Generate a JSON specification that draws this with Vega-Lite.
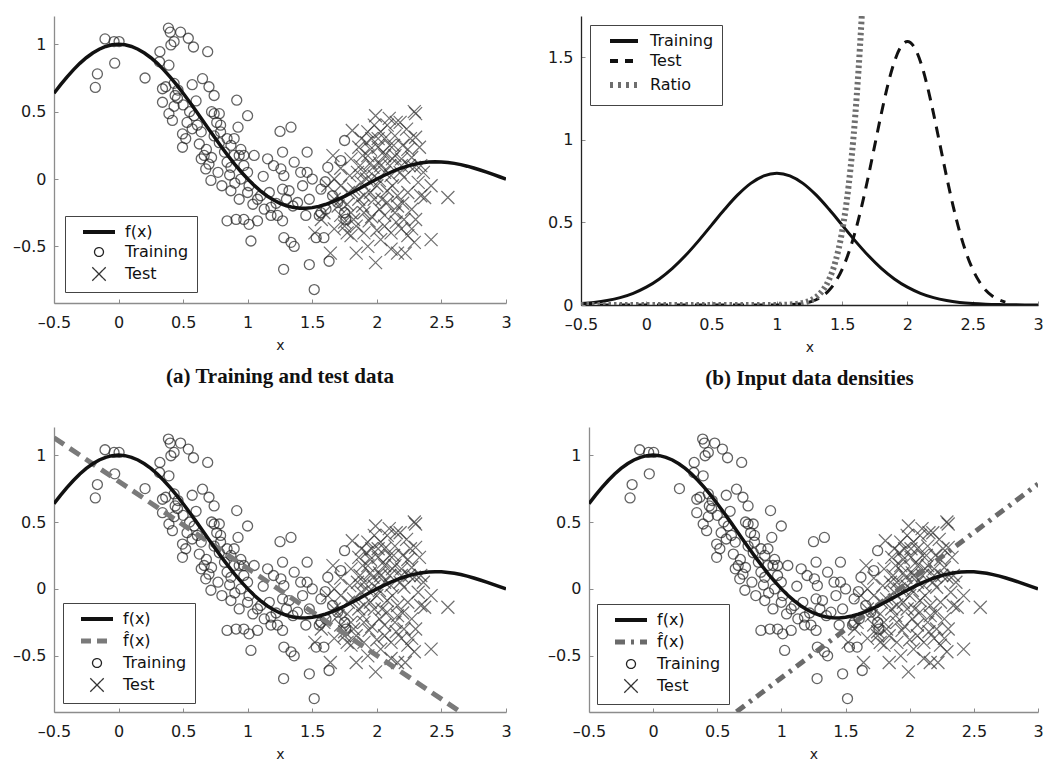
{
"$schema": "https://vega.github.io/schema/vega-lite/v6.json",
"background": "white",
"padding": {"left": 12, "top": 16, "right": 0, "bottom": 0},
"columns": 2,
"align": {"row": "all", "column": "none"},
"spacing": {"column": 35, "row": 38},
"resolve": {"scale": {"color": "independent"}, "legend": {"color": "independent"}},
"datasets": {
"curve": [{"x":-0.5,"y":0.6366},{"x":-0.45,"y":0.6987},{"x":-0.4,"y":0.7568},{"x":-0.35,"y":0.8103},{"x":-0.3,"y":0.8584},{"x":-0.25,"y":0.9003},{"x":-0.2,"y":0.9355},{"x":-0.15,"y":0.9634},{"x":-0.1,"y":0.9836},{"x":-0.05,"y":0.9959},{"x":0,"y":1},{"x":0.05,"y":0.9959},{"x":0.1,"y":0.9836},{"x":0.15,"y":0.9634},{"x":0.2,"y":0.9355},{"x":0.25,"y":0.9003},{"x":0.3,"y":0.8584},{"x":0.35,"y":0.8103},{"x":0.4,"y":0.7568},{"x":0.45,"y":0.6987},{"x":0.5,"y":0.6366},{"x":0.55,"y":0.5716},{"x":0.6,"y":0.5046},{"x":0.65,"y":0.4363},{"x":0.7,"y":0.3679},{"x":0.75,"y":0.3001},{"x":0.8,"y":0.2339},{"x":0.85,"y":0.17},{"x":0.9,"y":0.1093},{"x":0.95,"y":0.0524},{"x":1,"y":0},{"x":1.05,"y":-0.0474},{"x":1.1,"y":-0.0894},{"x":1.15,"y":-0.1257},{"x":1.2,"y":-0.1559},{"x":1.25,"y":-0.1801},{"x":1.3,"y":-0.1981},{"x":1.35,"y":-0.2101},{"x":1.4,"y":-0.2162},{"x":1.45,"y":-0.2168},{"x":1.5,"y":-0.2122},{"x":1.55,"y":-0.2028},{"x":1.6,"y":-0.1892},{"x":1.65,"y":-0.1719},{"x":1.7,"y":-0.1515},{"x":1.75,"y":-0.1286},{"x":1.8,"y":-0.1039},{"x":1.85,"y":-0.0781},{"x":1.9,"y":-0.0518},{"x":1.95,"y":-0.0255},{"x":2,"y":0},{"x":2.05,"y":0.0243},{"x":2.1,"y":0.0468},{"x":2.15,"y":0.0672},{"x":2.2,"y":0.085},{"x":2.25,"y":0.1},{"x":2.3,"y":0.112},{"x":2.35,"y":0.1207},{"x":2.4,"y":0.1261},{"x":2.45,"y":0.1283},{"x":2.5,"y":0.1273},{"x":2.55,"y":0.1233},{"x":2.6,"y":0.1164},{"x":2.65,"y":0.107},{"x":2.7,"y":0.0954},{"x":2.75,"y":0.0818},{"x":2.8,"y":0.0668},{"x":2.85,"y":0.0507},{"x":2.9,"y":0.0339},{"x":2.95,"y":0.0169},{"x":3,"y":0}],
"train": [{"x":-0.105,"y":1.04},{"x":-0.035,"y":1.02},{"x":0.004,"y":1.02},{"x":-0.164,"y":0.78},{"x":-0.18,"y":0.68},{"x":-0.03,"y":0.86},{"x":0.205,"y":0.75},{"x":0.32,"y":0.945},{"x":0.386,"y":1.12},{"x":0.4,"y":1.09},{"x":0.48,"y":1.09},{"x":0.54,"y":1.045},{"x":0.43,"y":1.02},{"x":0.58,"y":0.98},{"x":0.69,"y":0.945},{"x":0.405,"y":0.995},{"x":0.39,"y":0.845},{"x":0.317,"y":0.87},{"x":0.34,"y":0.67},{"x":0.365,"y":0.685},{"x":0.43,"y":0.71},{"x":0.34,"y":0.57},{"x":0.39,"y":0.485},{"x":0.417,"y":0.435},{"x":0.438,"y":0.62},{"x":0.456,"y":0.6},{"x":0.43,"y":0.54},{"x":0.495,"y":0.335},{"x":0.495,"y":0.236},{"x":0.52,"y":0.3},{"x":0.57,"y":0.7},{"x":0.53,"y":0.42},{"x":0.61,"y":0.4},{"x":0.64,"y":0.35},{"x":0.65,"y":0.745},{"x":0.7,"y":0.685},{"x":0.74,"y":0.62},{"x":0.625,"y":0.26},{"x":0.663,"y":0.175},{"x":0.7,"y":0.11},{"x":0.715,"y":-0.01},{"x":0.74,"y":0.485},{"x":0.78,"y":0.485},{"x":0.79,"y":0.4},{"x":0.74,"y":0.32},{"x":0.78,"y":0.27},{"x":0.82,"y":0.2},{"x":0.84,"y":0.125},{"x":0.87,"y":0.087},{"x":0.915,"y":0.585},{"x":0.925,"y":0.385},{"x":0.999,"y":0.47},{"x":0.87,"y":0.25},{"x":0.895,"y":0.175},{"x":0.934,"y":0.175},{"x":0.87,"y":-0.087},{"x":0.934,"y":-0.15},{"x":0.84,"y":-0.31},{"x":0.91,"y":-0.3},{"x":0.97,"y":-0.3},{"x":1.01,"y":-0.336},{"x":1.076,"y":-0.31},{"x":1.025,"y":-0.46},{"x":0.97,"y":0.1},{"x":0.999,"y":0.05},{"x":1.05,"y":0.175},{"x":1.01,"y":-0.05},{"x":1.04,"y":-0.187},{"x":1.076,"y":-0.15},{"x":1.154,"y":0.15},{"x":1.167,"y":-0.1},{"x":1.18,"y":-0.21},{"x":1.23,"y":-0.27},{"x":1.25,"y":0.353},{"x":1.335,"y":0.385},{"x":1.27,"y":0.2},{"x":1.257,"y":0.075},{"x":1.28,"y":0.025},{"x":1.27,"y":-0.075},{"x":1.32,"y":-0.087},{"x":1.3,"y":-0.15},{"x":1.27,"y":-0.31},{"x":1.28,"y":-0.435},{"x":1.335,"y":-0.47},{"x":1.36,"y":-0.5},{"x":1.278,"y":-0.67},{"x":1.36,"y":0.125},{"x":1.41,"y":0.05},{"x":1.46,"y":0.2},{"x":1.46,"y":0.05},{"x":1.5,"y":0},{"x":1.477,"y":-0.15},{"x":1.45,"y":-0.27},{"x":1.53,"y":-0.435},{"x":1.477,"y":-0.635},{"x":1.515,"y":-0.82},{"x":1.567,"y":-0.075},{"x":1.62,"y":0.087},{"x":1.606,"y":-0.224},{"x":1.59,"y":-0.435},{"x":1.63,"y":-0.61},{"x":1.75,"y":0.286},{"x":1.72,"y":0.137},{"x":1.75,"y":-0.25},{"x":1.76,"y":-0.3},{"x":0.64,"y":0.15},{"x":0.675,"y":0.075},{"x":0.57,"y":0.373},{"x":0.585,"y":0.47},{"x":0.79,"y":0.35},{"x":0.84,"y":0.3},{"x":0.895,"y":0.3},{"x":0.947,"y":0.22},{"x":0.97,"y":0.175},{"x":0.77,"y":0.05},{"x":0.8,"y":-0.05},{"x":0.947,"y":0},{"x":0.999,"y":-0.1},{"x":1.1,"y":-0.124},{"x":1.128,"y":-0.224},{"x":1.18,"y":-0.27},{"x":1.386,"y":-0.174},{"x":1.425,"y":-0.05},{"x":1.567,"y":-0.25},{"x":1.657,"y":-0.124},{"x":1.696,"y":-0.174},{"x":1.554,"y":-0.27},{"x":0.46,"y":0.66},{"x":0.5,"y":0.55},{"x":0.55,"y":0.5},{"x":0.6,"y":0.58},{"x":0.72,"y":0.5},{"x":0.76,"y":0.42},{"x":0.68,"y":0.22},{"x":0.72,"y":0.16},{"x":0.86,"y":0.03},{"x":0.9,"y":-0.03},{"x":1.12,"y":0.02},{"x":1.2,"y":0.1},{"x":1.22,"y":-0.18},{"x":1.35,"y":-0.2},{"x":1.6,"y":-0.02}],
"test": [{"x":2.29,"y":0.5},{"x":2.3,"y":0.485},{"x":1.99,"y":0.47},{"x":2.096,"y":0.45},{"x":2.15,"y":0.42},{"x":1.81,"y":0.36},{"x":1.93,"y":0.35},{"x":2.03,"y":0.35},{"x":2.3,"y":0.31},{"x":1.92,"y":0.27},{"x":2.01,"y":0.236},{"x":2.13,"y":0.25},{"x":2.2,"y":0.25},{"x":2.33,"y":0.236},{"x":1.66,"y":0.174},{"x":1.89,"y":0.174},{"x":2.06,"y":0.174},{"x":2.14,"y":0.174},{"x":2.27,"y":0.16},{"x":1.87,"y":0.1},{"x":1.97,"y":0.087},{"x":2.03,"y":0.1},{"x":2.19,"y":0.1},{"x":2.29,"y":0.087},{"x":1.79,"y":0.025},{"x":1.92,"y":0},{"x":2.02,"y":-0.012},{"x":2.11,"y":0.025},{"x":2.21,"y":0.012},{"x":2.42,"y":-0.05},{"x":1.72,"y":-0.05},{"x":1.82,"y":-0.075},{"x":1.95,"y":-0.1},{"x":2.08,"y":-0.087},{"x":2.16,"y":-0.124},{"x":2.37,"y":-0.137},{"x":2.55,"y":-0.137},{"x":1.67,"y":-0.15},{"x":1.77,"y":-0.187},{"x":1.89,"y":-0.2},{"x":2.02,"y":-0.224},{"x":2.14,"y":-0.25},{"x":2.27,"y":-0.224},{"x":1.59,"y":-0.25},{"x":1.72,"y":-0.27},{"x":1.82,"y":-0.3},{"x":1.94,"y":-0.31},{"x":2.06,"y":-0.35},{"x":2.19,"y":-0.37},{"x":1.67,"y":-0.37},{"x":1.77,"y":-0.4},{"x":1.9,"y":-0.4},{"x":2.03,"y":-0.45},{"x":2.27,"y":-0.37},{"x":2.42,"y":-0.45},{"x":1.64,"y":-0.55},{"x":1.84,"y":-0.55},{"x":2.11,"y":-0.52},{"x":2.16,"y":-0.55},{"x":1.99,"y":-0.62},{"x":2.34,"y":-0.124},{"x":2.34,"y":0.1},{"x":2.23,"y":0.37},{"x":1.93,"y":0.174},{"x":1.86,"y":0.236},{"x":2.06,"y":0.3},{"x":1.98,"y":0.4},{"x":1.8,"y":-0.25},{"x":1.75,"y":-0.35},{"x":1.88,"y":-0.025},{"x":1.98,"y":-0.15},{"x":2.08,"y":-0.174},{"x":2.16,"y":-0.2},{"x":2.24,"y":-0.1},{"x":2.32,"y":-0.025},{"x":2.21,"y":-0.3},{"x":2.11,"y":-0.4},{"x":1.93,"y":-0.5},{"x":2.29,"y":-0.47},{"x":1.72,"y":-0.15},{"x":1.57,"y":-0.3},{"x":1.52,"y":-0.4},{"x":1.8,"y":0.15},{"x":2.19,"y":0.15},{"x":2.06,"y":0.05},{"x":1.95,"y":0.22},{"x":2.14,"y":0.32},{"x":2.01,"y":0.3},{"x":1.9,"y":0.05},{"x":1.67,"y":0},{"x":2.24,"y":0.22},{"x":1.86,"y":-0.15},{"x":2.06,"y":-0.27},{"x":1.85,"y":0.05},{"x":1.95,"y":0.12},{"x":2.05,"y":0.2},{"x":2.1,"y":0.1},{"x":2.18,"y":0.05},{"x":2.25,"y":0.1},{"x":2.12,"y":-0.05},{"x":2,"y":-0.05},{"x":1.9,"y":-0.12},{"x":1.78,"y":-0.1},{"x":1.7,"y":-0.2},{"x":1.84,"y":-0.35},{"x":1.96,"y":-0.28},{"x":2.04,"y":-0.15},{"x":2.2,"y":-0.18},{"x":2.3,"y":-0.3},{"x":2.26,"y":0.3},{"x":2.18,"y":0.42},{"x":2.08,"y":0.4},{"x":1.96,"y":0.3},{"x":1.88,"y":0.3},{"x":2.1,"y":0.25},{"x":1.75,"y":-0.32},{"x":1.8,"y":-0.42},{"x":2,"y":-0.38},{"x":2.24,"y":-0.42},{"x":2.36,"y":0.05},{"x":1.62,"y":-0.05},{"x":1.98,"y":0.02},{"x":2.15,"y":-0.32},{"x":1.72,"y":0.08},{"x":2.22,"y":-0.55},{"x":1.9,"y":-0.25},{"x":2.02,"y":0.12},{"x":2.12,"y":0.15}],
"dtrain": [{"x":-0.5,"p":0.0089},{"x":-0.4,"p":0.0158},{"x":-0.3,"p":0.0272},{"x":-0.2,"p":0.0448},{"x":-0.1,"p":0.071},{"x":0,"p":0.108},{"x":0.1,"p":0.1579},{"x":0.2,"p":0.2219},{"x":0.3,"p":0.2995},{"x":0.4,"p":0.3884},{"x":0.5,"p":0.4839},{"x":0.6,"p":0.5794},{"x":0.7,"p":0.6665},{"x":0.8,"p":0.7365},{"x":0.9,"p":0.7821},{"x":1,"p":0.7979},{"x":1.1,"p":0.7821},{"x":1.2,"p":0.7365},{"x":1.3,"p":0.6665},{"x":1.4,"p":0.5794},{"x":1.5,"p":0.4839},{"x":1.6,"p":0.3884},{"x":1.7,"p":0.2995},{"x":1.8,"p":0.2219},{"x":1.9,"p":0.1579},{"x":2,"p":0.108},{"x":2.1,"p":0.071},{"x":2.2,"p":0.0448},{"x":2.3,"p":0.0272},{"x":2.4,"p":0.0158},{"x":2.5,"p":0.0089},{"x":2.6,"p":0.0048},{"x":2.7,"p":0.0025},{"x":2.8,"p":0.0012},{"x":2.9,"p":0.0006},{"x":3,"p":0.0003}],
"dtest": [{"x":-0.5,"p":0},{"x":0,"p":0},{"x":0.5,"p":0},{"x":0.9,"p":0.0001},{"x":1,"p":0.0005},{"x":1.1,"p":0.0025},{"x":1.2,"p":0.0095},{"x":1.3,"p":0.0317},{"x":1.35,"p":0.0543},{"x":1.4,"p":0.0896},{"x":1.45,"p":0.1419},{"x":1.5,"p":0.216},{"x":1.55,"p":0.3158},{"x":1.6,"p":0.4437},{"x":1.65,"p":0.5989},{"x":1.7,"p":0.7767},{"x":1.75,"p":0.9679},{"x":1.8,"p":1.1588},{"x":1.85,"p":1.3329},{"x":1.9,"p":1.4731},{"x":1.95,"p":1.5642},{"x":2,"p":1.5958},{"x":2.05,"p":1.5642},{"x":2.1,"p":1.4731},{"x":2.15,"p":1.3329},{"x":2.2,"p":1.1588},{"x":2.25,"p":0.9679},{"x":2.3,"p":0.7767},{"x":2.35,"p":0.5989},{"x":2.4,"p":0.4437},{"x":2.45,"p":0.3158},{"x":2.5,"p":0.216},{"x":2.55,"p":0.1419},{"x":2.6,"p":0.0896},{"x":2.65,"p":0.0543},{"x":2.7,"p":0.0317},{"x":2.75,"p":0.0177}],
"dratio": [{"x":-0.5,"p":0},{"x":0,"p":0},{"x":0.5,"p":0},{"x":0.9,"p":0.0001},{"x":1,"p":0.0007},{"x":1.1,"p":0.0031},{"x":1.2,"p":0.013},{"x":1.25,"p":0.0252},{"x":1.3,"p":0.0475},{"x":1.35,"p":0.087},{"x":1.4,"p":0.1546},{"x":1.45,"p":0.2667},{"x":1.5,"p":0.4463},{"x":1.55,"p":0.7248},{"x":1.6,"p":1.1424},{"x":1.65,"p":1.7474},{"x":1.7,"p":2.5939}],
"fhatc": [{"x":-0.5,"y":1.13},{"x":2.65,"y":-0.921}],
"fhatd": [{"x":0.65,"y":-0.918},{"x":3,"y":0.784}]
},
"concat": [
{
 "width": 452, "height": 287,
 "title": {"text": "(a) Training and test data"},
 "layer": [
  {"data": {"name": "train"}, "mark": {"type": "point", "shape": "circle", "filled": false, "size": 100, "strokeWidth": 1.3, "clip": true},
   "encoding": {
    "x": {"field": "x", "type": "quantitative", "scale": {"domain": [-0.5, 3], "nice": false, "zero": false}, "axis": {"values": [-0.5,0,0.5,1,1.5,2,2.5,3], "title": "x", "labelPadding": 15, "labelExpr": "datum.value < 0 ? '–' + format(-datum.value, '~g') : format(datum.value, '~g')"}},
    "y": {"field": "y", "type": "quantitative", "scale": {"domain": [-0.92, 1.21], "nice": false, "zero": false}, "axis": {"values": [-0.5,0,0.5,1], "title": null, "labelExpr": "datum.value < 0 ? '–' + format(-datum.value, '~g') : format(datum.value, '~g')"}},
    "color": {"datum": "Training", "type": "nominal", "scale": {"domain": ["f(x)", "Training", "Test"], "range": ["#111111", "#222222", "#333333"]},
     "legend": {"orient": "bottom-left", "offset": 11,
      "encode": {"symbols": {"update": {
       "shape": {"signal": "datum.value === 'Training' ? 'circle' : datum.value === 'Test' ? 'M-1,-1L1,1M1,-1L-1,1' : 'M-3.2,0L3.2,0'"},
       "size": {"signal": "datum.value === 'Training' ? 80 : datum.value === 'Test' ? 180 : 100"},
       "strokeWidth": {"signal": "datum.value === 'f(x)' ? 4 : 1.3"},
       "stroke": {"value": "#111111"},
       "fill": {"value": "transparent"},
       "strokeDash": {"value": [1, 0]}}}}}}
   }},
  {"data": {"name": "test"}, "mark": {"type": "point", "shape": "M-1,-1L1,1M1,-1L-1,1", "filled": false, "size": 169, "strokeWidth": 1.2, "clip": true},
   "encoding": {"x": {"field": "x", "type": "quantitative"}, "y": {"field": "y", "type": "quantitative"},
    "color": {"datum": "Test", "type": "nominal",
     "legend": {"orient": "bottom-left", "offset": 11,
      "encode": {"symbols": {"update": {
       "shape": {"signal": "datum.value === 'Training' ? 'circle' : datum.value === 'Test' ? 'M-1,-1L1,1M1,-1L-1,1' : 'M-3.2,0L3.2,0'"},
       "size": {"signal": "datum.value === 'Training' ? 80 : datum.value === 'Test' ? 180 : 100"},
       "strokeWidth": {"signal": "datum.value === 'f(x)' ? 4 : 1.3"},
       "stroke": {"value": "#111111"},
       "fill": {"value": "transparent"},
       "strokeDash": {"value": [1, 0]}}}}}}}},
  {"data": {"name": "curve"}, "mark": {"type": "line", "strokeWidth": 3.5, "clip": true},
   "encoding": {"x": {"field": "x", "type": "quantitative"}, "y": {"field": "y", "type": "quantitative"},
    "color": {"datum": "f(x)", "type": "nominal",
     "legend": {"orient": "bottom-left", "offset": 11,
      "encode": {"symbols": {"update": {
       "shape": {"signal": "datum.value === 'Training' ? 'circle' : datum.value === 'Test' ? 'M-1,-1L1,1M1,-1L-1,1' : 'M-3.2,0L3.2,0'"},
       "size": {"signal": "datum.value === 'Training' ? 80 : datum.value === 'Test' ? 180 : 100"},
       "strokeWidth": {"signal": "datum.value === 'f(x)' ? 4 : 1.3"},
       "stroke": {"value": "#111111"},
       "fill": {"value": "transparent"},
       "strokeDash": {"value": [1, 0]}}}}}}}}
 ]
},
{
 "width": 457, "height": 289,
 "title": {"text": "(b) Input data densities"},
 "layer": [
  {"data": {"name": "dtrain"}, "mark": {"type": "line", "strokeWidth": 3, "clip": true, "interpolate": "monotone"},
   "encoding": {
    "x": {"field": "x", "type": "quantitative", "scale": {"domain": [-0.5, 3], "nice": false, "zero": false}, "axis": {"values": [-0.5,0,0.5,1,1.5,2,2.5,3], "title": "x", "labelPadding": 15, "domainColor": "#222222", "labelExpr": "datum.value < 0 ? '–' + format(-datum.value, '~g') : format(datum.value, '~g')"}},
    "y": {"field": "p", "type": "quantitative", "scale": {"domain": [0, 1.75], "nice": false, "zero": false}, "axis": {"values": [0,0.5,1,1.5], "title": null, "domainColor": "#222222", "labelExpr": "format(datum.value, '~g')"}},
    "color": {"datum": "Training", "type": "nominal", "scale": {"domain": ["Training", "Test", "Ratio"], "range": ["#111111", "#111111", "#6e6e6e"]},
     "legend": {"orient": "top-left", "offset": 9,
      "encode": {"symbols": {"update": {
       "shape": {"value": "M-2.8,0L2.8,0"},
       "size": {"value": 100},
       "strokeWidth": {"signal": "datum.value === 'Ratio' ? 6 : 4"},
       "stroke": {"signal": "datum.value === 'Ratio' ? '#6e6e6e' : '#111111'"},
       "fill": {"value": "transparent"},
       "strokeDash": {"signal": "datum.value === 'Test' ? [8, 7] : datum.value === 'Ratio' ? [3, 5] : [1, 0]"}}}}}}
   }},
  {"data": {"name": "dtest"}, "mark": {"type": "line", "strokeWidth": 3, "strokeDash": [11, 8], "clip": true, "interpolate": "monotone"},
   "encoding": {"x": {"field": "x", "type": "quantitative"}, "y": {"field": "p", "type": "quantitative"}, "color": {"datum": "Test", "type": "nominal"}}},
  {"data": {"name": "dratio"}, "mark": {"type": "line", "strokeWidth": 6, "strokeDash": [2.5, 3], "clip": true, "interpolate": "monotone"},
   "encoding": {"x": {"field": "x", "type": "quantitative"}, "y": {"field": "p", "type": "quantitative"}, "color": {"datum": "Ratio", "type": "nominal"}}}
 ]
},
{
 "width": 452, "height": 285,
 "layer": [
  {"data": {"name": "train"}, "mark": {"type": "point", "shape": "circle", "filled": false, "size": 100, "strokeWidth": 1.3, "clip": true},
   "encoding": {
    "x": {"field": "x", "type": "quantitative", "scale": {"domain": [-0.5, 3], "nice": false, "zero": false}, "axis": {"values": [-0.5,0,0.5,1,1.5,2,2.5,3], "title": "x", "labelPadding": 15, "labelExpr": "datum.value < 0 ? '–' + format(-datum.value, '~g') : format(datum.value, '~g')"}},
    "y": {"field": "y", "type": "quantitative", "scale": {"domain": [-0.92, 1.21], "nice": false, "zero": false}, "axis": {"values": [-0.5,0,0.5,1], "title": null, "labelExpr": "datum.value < 0 ? '–' + format(-datum.value, '~g') : format(datum.value, '~g')"}},
    "color": {"datum": "Training", "type": "nominal", "scale": {"domain": ["f(x)", "f\u0302(x)", "Training", "Test"], "range": ["#111111", "#7a7a7a", "#222222", "#333333"]},
     "legend": {"orient": "bottom-left", "offset": 9,
      "encode": {"symbols": {"update": {
       "shape": {"signal": "datum.value === 'Training' ? 'circle' : datum.value === 'Test' ? 'M-1,-1L1,1M1,-1L-1,1' : 'M-3.2,0L3.2,0'"},
       "size": {"signal": "datum.value === 'Training' ? 80 : datum.value === 'Test' ? 180 : 100"},
       "strokeWidth": {"signal": "datum.value === 'f(x)' ? 4 : datum.value === 'Training' || datum.value === 'Test' ? 1.3 : 5"},
       "stroke": {"signal": "datum.value === 'f(x)' || datum.value === 'Training' || datum.value === 'Test' ? '#111111' : '#7a7a7a'"},
       "fill": {"value": "transparent"},
       "strokeDash": {"signal": "datum.value === 'f(x)' || datum.value === 'Training' || datum.value === 'Test' ? [1, 0] : [10, 6]"}}}}}}
   }},
  {"data": {"name": "test"}, "mark": {"type": "point", "shape": "M-1,-1L1,1M1,-1L-1,1", "filled": false, "size": 169, "strokeWidth": 1.2, "clip": true},
   "encoding": {"x": {"field": "x", "type": "quantitative"}, "y": {"field": "y", "type": "quantitative"},
    "color": {"datum": "Test", "type": "nominal",
     "legend": {"orient": "bottom-left", "offset": 9,
      "encode": {"symbols": {"update": {
       "shape": {"signal": "datum.value === 'Training' ? 'circle' : datum.value === 'Test' ? 'M-1,-1L1,1M1,-1L-1,1' : 'M-3.2,0L3.2,0'"},
       "size": {"signal": "datum.value === 'Training' ? 80 : datum.value === 'Test' ? 180 : 100"},
       "strokeWidth": {"signal": "datum.value === 'f(x)' ? 4 : datum.value === 'Training' || datum.value === 'Test' ? 1.3 : 5"},
       "stroke": {"signal": "datum.value === 'f(x)' || datum.value === 'Training' || datum.value === 'Test' ? '#111111' : '#7a7a7a'"},
       "fill": {"value": "transparent"},
       "strokeDash": {"signal": "datum.value === 'f(x)' || datum.value === 'Training' || datum.value === 'Test' ? [1, 0] : [10, 6]"}}}}}}}},
  {"data": {"name": "fhatc"}, "mark": {"type": "line", "strokeWidth": 5, "strokeDash": [12, 7], "clip": true},
   "encoding": {"x": {"field": "x", "type": "quantitative"}, "y": {"field": "y", "type": "quantitative"},
    "color": {"datum": "f\u0302(x)", "type": "nominal",
     "legend": {"orient": "bottom-left", "offset": 9,
      "encode": {"symbols": {"update": {
       "shape": {"signal": "datum.value === 'Training' ? 'circle' : datum.value === 'Test' ? 'M-1,-1L1,1M1,-1L-1,1' : 'M-3.2,0L3.2,0'"},
       "size": {"signal": "datum.value === 'Training' ? 80 : datum.value === 'Test' ? 180 : 100"},
       "strokeWidth": {"signal": "datum.value === 'f(x)' ? 4 : datum.value === 'Training' || datum.value === 'Test' ? 1.3 : 5"},
       "stroke": {"signal": "datum.value === 'f(x)' || datum.value === 'Training' || datum.value === 'Test' ? '#111111' : '#7a7a7a'"},
       "fill": {"value": "transparent"},
       "strokeDash": {"signal": "datum.value === 'f(x)' || datum.value === 'Training' || datum.value === 'Test' ? [1, 0] : [10, 6]"}}}}}}}},
  {"data": {"name": "curve"}, "mark": {"type": "line", "strokeWidth": 3.5, "clip": true},
   "encoding": {"x": {"field": "x", "type": "quantitative"}, "y": {"field": "y", "type": "quantitative"},
    "color": {"datum": "f(x)", "type": "nominal",
     "legend": {"orient": "bottom-left", "offset": 9,
      "encode": {"symbols": {"update": {
       "shape": {"signal": "datum.value === 'Training' ? 'circle' : datum.value === 'Test' ? 'M-1,-1L1,1M1,-1L-1,1' : 'M-3.2,0L3.2,0'"},
       "size": {"signal": "datum.value === 'Training' ? 80 : datum.value === 'Test' ? 180 : 100"},
       "strokeWidth": {"signal": "datum.value === 'f(x)' ? 4 : datum.value === 'Training' || datum.value === 'Test' ? 1.3 : 5"},
       "stroke": {"signal": "datum.value === 'f(x)' || datum.value === 'Training' || datum.value === 'Test' ? '#111111' : '#7a7a7a'"},
       "fill": {"value": "transparent"},
       "strokeDash": {"signal": "datum.value === 'f(x)' || datum.value === 'Training' || datum.value === 'Test' ? [1, 0] : [10, 6]"}}}}}}}}
 ]
},
{
 "width": 449, "height": 285,
 "layer": [
  {"data": {"name": "train"}, "mark": {"type": "point", "shape": "circle", "filled": false, "size": 100, "strokeWidth": 1.3, "clip": true},
   "encoding": {
    "x": {"field": "x", "type": "quantitative", "scale": {"domain": [-0.5, 3], "nice": false, "zero": false}, "axis": {"values": [-0.5,0,0.5,1,1.5,2,2.5,3], "title": "x", "labelPadding": 15, "labelExpr": "datum.value < 0 ? '–' + format(-datum.value, '~g') : format(datum.value, '~g')"}},
    "y": {"field": "y", "type": "quantitative", "scale": {"domain": [-0.92, 1.21], "nice": false, "zero": false}, "axis": {"values": [-0.5,0,0.5,1], "title": null, "labelExpr": "datum.value < 0 ? '–' + format(-datum.value, '~g') : format(datum.value, '~g')"}},
    "color": {"datum": "Training", "type": "nominal", "scale": {"domain": ["f(x)", "f\u0302(x)", "Training", "Test"], "range": ["#111111", "#6a6a6a", "#222222", "#333333"]},
     "legend": {"orient": "bottom-left", "offset": 8,
      "encode": {"symbols": {"update": {
       "shape": {"signal": "datum.value === 'Training' ? 'circle' : datum.value === 'Test' ? 'M-1,-1L1,1M1,-1L-1,1' : 'M-3.2,0L3.2,0'"},
       "size": {"signal": "datum.value === 'Training' ? 80 : datum.value === 'Test' ? 180 : 100"},
       "strokeWidth": {"signal": "datum.value === 'f(x)' ? 4 : datum.value === 'Training' || datum.value === 'Test' ? 1.3 : 5"},
       "stroke": {"signal": "datum.value === 'f(x)' || datum.value === 'Training' || datum.value === 'Test' ? '#111111' : '#6a6a6a'"},
       "fill": {"value": "transparent"},
       "strokeDash": {"signal": "datum.value === 'f(x)' || datum.value === 'Training' || datum.value === 'Test' ? [1, 0] : [10, 6, 3, 6]"}}}}}}
   }},
  {"data": {"name": "test"}, "mark": {"type": "point", "shape": "M-1,-1L1,1M1,-1L-1,1", "filled": false, "size": 169, "strokeWidth": 1.2, "clip": true},
   "encoding": {"x": {"field": "x", "type": "quantitative"}, "y": {"field": "y", "type": "quantitative"},
    "color": {"datum": "Test", "type": "nominal",
     "legend": {"orient": "bottom-left", "offset": 8,
      "encode": {"symbols": {"update": {
       "shape": {"signal": "datum.value === 'Training' ? 'circle' : datum.value === 'Test' ? 'M-1,-1L1,1M1,-1L-1,1' : 'M-3.2,0L3.2,0'"},
       "size": {"signal": "datum.value === 'Training' ? 80 : datum.value === 'Test' ? 180 : 100"},
       "strokeWidth": {"signal": "datum.value === 'f(x)' ? 4 : datum.value === 'Training' || datum.value === 'Test' ? 1.3 : 5"},
       "stroke": {"signal": "datum.value === 'f(x)' || datum.value === 'Training' || datum.value === 'Test' ? '#111111' : '#6a6a6a'"},
       "fill": {"value": "transparent"},
       "strokeDash": {"signal": "datum.value === 'f(x)' || datum.value === 'Training' || datum.value === 'Test' ? [1, 0] : [10, 6, 3, 6]"}}}}}}}},
  {"data": {"name": "fhatd"}, "mark": {"type": "line", "strokeWidth": 5, "strokeDash": [10, 6, 3, 6], "clip": true},
   "encoding": {"x": {"field": "x", "type": "quantitative"}, "y": {"field": "y", "type": "quantitative"},
    "color": {"datum": "f\u0302(x)", "type": "nominal",
     "legend": {"orient": "bottom-left", "offset": 8,
      "encode": {"symbols": {"update": {
       "shape": {"signal": "datum.value === 'Training' ? 'circle' : datum.value === 'Test' ? 'M-1,-1L1,1M1,-1L-1,1' : 'M-3.2,0L3.2,0'"},
       "size": {"signal": "datum.value === 'Training' ? 80 : datum.value === 'Test' ? 180 : 100"},
       "strokeWidth": {"signal": "datum.value === 'f(x)' ? 4 : datum.value === 'Training' || datum.value === 'Test' ? 1.3 : 5"},
       "stroke": {"signal": "datum.value === 'f(x)' || datum.value === 'Training' || datum.value === 'Test' ? '#111111' : '#6a6a6a'"},
       "fill": {"value": "transparent"},
       "strokeDash": {"signal": "datum.value === 'f(x)' || datum.value === 'Training' || datum.value === 'Test' ? [1, 0] : [10, 6, 3, 6]"}}}}}}}},
  {"data": {"name": "curve"}, "mark": {"type": "line", "strokeWidth": 3.5, "clip": true},
   "encoding": {"x": {"field": "x", "type": "quantitative"}, "y": {"field": "y", "type": "quantitative"},
    "color": {"datum": "f(x)", "type": "nominal",
     "legend": {"orient": "bottom-left", "offset": 8,
      "encode": {"symbols": {"update": {
       "shape": {"signal": "datum.value === 'Training' ? 'circle' : datum.value === 'Test' ? 'M-1,-1L1,1M1,-1L-1,1' : 'M-3.2,0L3.2,0'"},
       "size": {"signal": "datum.value === 'Training' ? 80 : datum.value === 'Test' ? 180 : 100"},
       "strokeWidth": {"signal": "datum.value === 'f(x)' ? 4 : datum.value === 'Training' || datum.value === 'Test' ? 1.3 : 5"},
       "stroke": {"signal": "datum.value === 'f(x)' || datum.value === 'Training' || datum.value === 'Test' ? '#111111' : '#6a6a6a'"},
       "fill": {"value": "transparent"},
       "strokeDash": {"signal": "datum.value === 'f(x)' || datum.value === 'Training' || datum.value === 'Test' ? [1, 0] : [10, 6, 3, 6]"}}}}}}}}
 ]
}
],
"config": {
 "view": {"stroke": null},
 "axis": {"grid": false, "domainColor": "#8c8c8c", "domainWidth": 1.3, "tickColor": "#8c8c8c", "tickSize": -4, "labelFont": "DejaVu Sans", "labelFontSize": 16, "labelColor": "#1a1a1a", "labelPadding": 12, "titleFont": "DejaVu Sans", "titleFontSize": 14, "titleFontWeight": "normal", "titleColor": "#1a1a1a", "titlePadding": 8, "labelFlush": false, "labelOverlap": false},
 "legend": {"title": null, "strokeColor": "#444444", "fillColor": "#ffffff", "padding": 8, "labelFont": "DejaVu Sans", "labelFontSize": 16, "labelColor": "#111111", "symbolSize": 100, "rowPadding": 4, "symbolOffset": 18, "labelOffset": 18},
 "title": {"font": "Liberation Serif", "fontSize": 21, "fontWeight": "bold", "color": "#111111", "orient": "bottom", "offset": 14, "anchor": "middle"}
}
}
